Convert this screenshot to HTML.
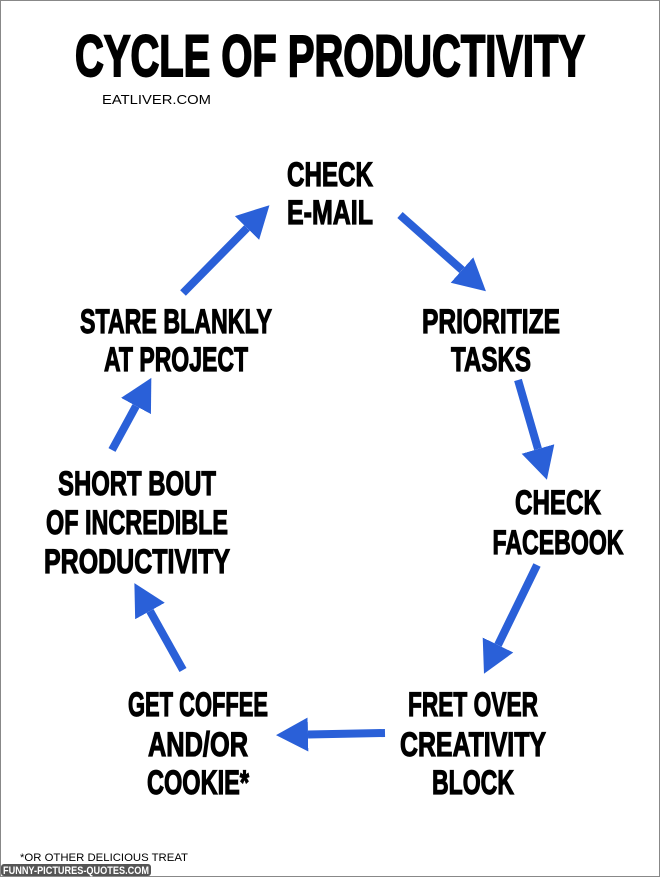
<!DOCTYPE html>
<html><head><meta charset="utf-8"><style>
html,body{margin:0;padding:0;background:#fff}
svg{display:block}
.t{font-family:"Liberation Sans Narrow","Liberation Sans",sans-serif;font-weight:bold;fill:#000;stroke:#000;stroke-width:1.2;text-anchor:middle}
</style></head><body>
<svg width="660" height="877" viewBox="0 0 660 877">
<defs>
<marker id="h" markerUnits="userSpaceOnUse" markerWidth="40" markerHeight="40" refX="0" refY="17" orient="auto" viewBox="0 0 40 34">
<path d="M0,0 L32,17 L0,34 z" fill="#2a60d8"/>
</marker>
</defs>
<rect x="0.5" y="0.5" width="659" height="876" fill="#fff" stroke="#888"/>
<text class="t" x="330" y="76" font-size="58" textLength="510" lengthAdjust="spacingAndGlyphs" style="stroke-width:2">CYCLE OF PRODUCTIVITY</text>
<text x="102" y="104" font-family="Liberation Sans,sans-serif" font-size="13" textLength="109" lengthAdjust="spacingAndGlyphs">EATLIVER.COM</text>

<g class="t" font-size="34">
<text x="330" y="186" textLength="86" lengthAdjust="spacingAndGlyphs">CHECK</text>
<text x="330" y="224" textLength="86" lengthAdjust="spacingAndGlyphs">E-MAIL</text>
<text x="491" y="333" textLength="138" lengthAdjust="spacingAndGlyphs">PRIORITIZE</text>
<text x="491" y="371" textLength="80" lengthAdjust="spacingAndGlyphs">TASKS</text>
<text x="558" y="514" textLength="86" lengthAdjust="spacingAndGlyphs">CHECK</text>
<text x="558" y="554" textLength="131" lengthAdjust="spacingAndGlyphs">FACEBOOK</text>
<text x="473" y="716" textLength="130" lengthAdjust="spacingAndGlyphs">FRET OVER</text>
<text x="473" y="756" textLength="146" lengthAdjust="spacingAndGlyphs">CREATIVITY</text>
<text x="473" y="794" textLength="82" lengthAdjust="spacingAndGlyphs">BLOCK</text>
<text x="198" y="716" textLength="140" lengthAdjust="spacingAndGlyphs">GET COFFEE</text>
<text x="198" y="756" textLength="100" lengthAdjust="spacingAndGlyphs">AND/OR</text>
<text x="198" y="794" textLength="102" lengthAdjust="spacingAndGlyphs">COOKIE*</text>
<text x="137" y="495" textLength="158" lengthAdjust="spacingAndGlyphs">SHORT BOUT</text>
<text x="137" y="534" textLength="182" lengthAdjust="spacingAndGlyphs">OF INCREDIBLE</text>
<text x="137" y="573" textLength="186" lengthAdjust="spacingAndGlyphs">PRODUCTIVITY</text>
<text x="176" y="333" textLength="192" lengthAdjust="spacingAndGlyphs">STARE BLANKLY</text>
<text x="176" y="371" textLength="144" lengthAdjust="spacingAndGlyphs">AT PROJECT</text>
</g>

<g stroke="#2a60d8" stroke-width="8" marker-end="url(#h)">
<line x1="400" y1="215" x2="462" y2="270"/>
<line x1="518" y1="380" x2="538" y2="449"/>
<line x1="537" y1="565" x2="498" y2="645"/>
<line x1="385" y1="733" x2="308" y2="734.5"/>
<line x1="183" y1="670" x2="150" y2="611"/>
<line x1="112" y1="450" x2="136" y2="406"/>
<line x1="183" y1="293" x2="247" y2="228"/>
</g>

<text x="20" y="861" font-family="Liberation Sans,sans-serif" font-size="11" textLength="168" lengthAdjust="spacingAndGlyphs">*OR OTHER DELICIOUS TREAT</text>
<rect x="1" y="864" width="150" height="12" rx="3" fill="#555"/>
<text x="3" y="874" font-family="Liberation Sans,sans-serif" font-weight="bold" font-size="11" fill="#fff" textLength="146" lengthAdjust="spacingAndGlyphs">FUNNY-PICTURES-QUOTES.COM</text>
</svg>
</body></html>
